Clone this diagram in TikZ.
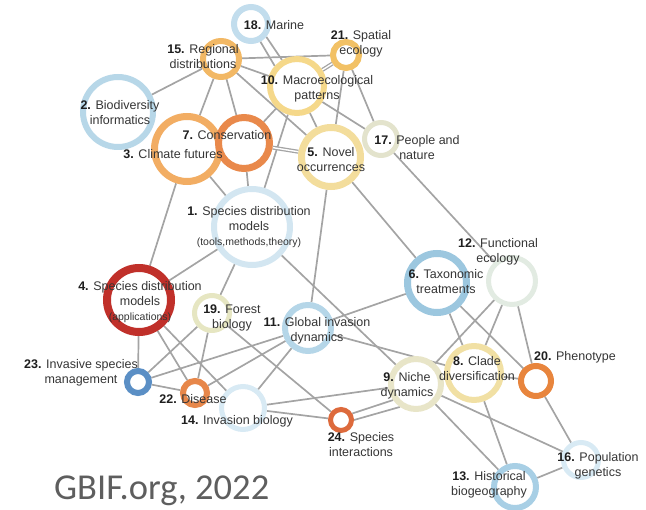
\documentclass[tikz,border=0pt]{standalone}
\usepackage{fontspec}
\usepackage{tikz}
\usepackage{xcolor}
\usetikzlibrary{backgrounds}
\newfontfamily\lblfont{Liberation Sans}
\newfontfamily\capfont{Carlito}
\definecolor{edgegray}{HTML}{A4A4A4}
\definecolor{txtgray}{HTML}{353535}
\definecolor{numcol}{HTML}{1E1E1E}
\definecolor{gbifgray}{HTML}{5E5E5E}
\definecolor{c1}{HTML}{D3E6F1}
\definecolor{c2}{HTML}{B7D7E8}
\definecolor{c3}{HTML}{F2AD63}
\definecolor{c4}{HTML}{C0302A}
\definecolor{c5}{HTML}{F3DD9C}
\definecolor{c6}{HTML}{9CC7DF}
\definecolor{c7}{HTML}{E9894B}
\definecolor{c8}{HTML}{F1E0A4}
\definecolor{c9}{HTML}{E8E5C8}
\definecolor{c10}{HTML}{F5D88A}
\definecolor{c11}{HTML}{B5D6E8}
\definecolor{c12}{HTML}{E2EBE2}
\definecolor{c13}{HTML}{A8CFE5}
\definecolor{c14}{HTML}{D8EAF4}
\definecolor{c15}{HTML}{F2B865}
\definecolor{c16}{HTML}{D8EAF4}
\definecolor{c17}{HTML}{E3E3CC}
\definecolor{c18}{HTML}{C2DDED}
\definecolor{c19}{HTML}{E6E6C2}
\definecolor{c20}{HTML}{E8853D}
\definecolor{c21}{HTML}{F2C165}
\definecolor{c22}{HTML}{E7874A}
\definecolor{c23}{HTML}{5B8FC5}
\definecolor{c24}{HTML}{DD6A3C}
\newcommand\nb[1]{\textbf{\color{numcol}#1.}}

\begin{document}
\begin{tikzpicture}[x=1pt, y=-1pt,
    ring/.style = {circle, draw=#1, fill=white, inner sep=0pt},
    lbl/.style = {align=center, inner sep=0pt, text=txtgray,
      font=\lblfont\fontsize{12.5}{15}\selectfont},
    edge/.style = {draw=edgegray, line width=1.7pt},
    twin/.style = {draw=edgegray, line width=1.3pt, double=white,
      double distance=1.4pt}]
  \useasboundingbox (0,0) rectangle (646,510);
  % circles
  \node[ring=c1, line width=6pt, minimum size=76pt] (n1) at (252,227) {};
  \node[ring=c2, line width=6pt, minimum size=70pt] (n2) at (118,112) {};
  \node[ring=c3, line width=7pt, minimum size=65pt] (n3) at (187,149) {};
  \node[ring=c4, line width=8pt, minimum size=64pt] (n4) at (139,300) {};
  \node[ring=c5, line width=7pt, minimum size=59pt] (n5) at (331,157) {};
  \node[ring=c6, line width=7pt, minimum size=59pt] (n6) at (437,283) {};
  \node[ring=c7, line width=7pt, minimum size=51pt] (n7) at (244,143) {};
  \node[ring=c8, line width=6pt, minimum size=54pt] (n8) at (474,373) {};
  \node[ring=c9, line width=6pt, minimum size=50pt] (n9) at (416,384) {};
  \node[ring=c10, line width=6pt, minimum size=54pt] (n10) at (297,86) {};
  \node[ring=c11, line width=6pt, minimum size=46pt] (n11) at (308,328) {};
  \node[ring=c12, line width=5pt, minimum size=47pt] (n12) at (512,281) {};
  \node[ring=c13, line width=6pt, minimum size=42pt] (n13) at (515,487) {};
  \node[ring=c14, line width=5pt, minimum size=43pt] (n14) at (243,408) {};
  \node[ring=c15, line width=6pt, minimum size=36pt] (n15) at (221,59) {};
  \node[ring=c16, line width=5pt, minimum size=35pt] (n16) at (581,460) {};
  \node[ring=c17, line width=5pt, minimum size=33pt] (n17) at (381,139) {};
  \node[ring=c18, line width=6pt, minimum size=34pt] (n18) at (251,24) {};
  \node[ring=c19, line width=5pt, minimum size=35pt] (n19) at (212,313) {};
  \node[ring=c20, line width=6pt, minimum size=30pt] (n20) at (536,381) {};
  \node[ring=c21, line width=6pt, minimum size=26pt] (n21) at (346,55) {};
  \node[ring=c22, line width=6pt, minimum size=24pt] (n22) at (195,393) {};
  \node[ring=c23, line width=6pt, minimum size=22pt] (n23) at (138,382) {};
  \node[ring=c24, line width=5pt, minimum size=21pt] (n24) at (341,420) {};

  % links
  \begin{scope}[on background layer]
    \foreach \a/\b in {15/21, 15/10, 15/5, 15/3, 15/7, 15/2,
        21/5, 21/17, 10/17, 10/7, 10/1, 10/5, 3/1, 3/4, 7/1,
        5/11, 5/6, 17/12, 1/4, 1/19, 1/9, 4/23, 4/22, 4/14,
        19/23, 19/22, 19/24, 11/23, 11/22, 11/14, 11/8, 11/6,
        23/22, 14/9, 14/24, 6/8, 6/20, 12/9, 12/8, 12/20,
        8/20, 9/13, 9/16, 8/13, 20/16, 13/16}
      \draw[edge] (n\a) -- (n\b);
    \draw[edge] (n18.-40) -- (n10.120);
    \draw[edge] (n18.-62) -- (n10.138);
    \draw[edge] (n24.30) -- (n9.215);
    \draw[edge] (n24.0) -- (n9.235);
    \draw[twin] (n21) -- (n10);
    \draw[twin] (n7) -- (n5);
  \end{scope}

  % labels
  \node[lbl] (l1) at (249,227) {\nb{1} Species distribution\\models\\{\fontsize{10.5}{12}\selectfont (tools,methods,theory)}};
  \node[lbl] (l2) at (120,113) {\nb{2} Biodiversity\\informatics};
  \node[lbl] (l3) at (173,154) {\nb{3} Climate futures};
  \node[lbl] (l4) at (140,302) {\nb{4} Species distribution\\models\\{\fontsize{10.5}{12}\selectfont (applications)}};
  \node[lbl] (l5) at (331,160) {\nb{5} Novel\\occurrences};
  \node[lbl] (l6) at (446,282) {\nb{6} Taxonomic\\treatments};
  \node[lbl] (l7) at (227,135) {\nb{7} Conservation};
  \node[lbl] (l8) at (477,369) {\nb{8} Clade\\diversification};
  \node[lbl] (l9) at (407,386) {\nb{9} Niche\\dynamics};
  \node[lbl] (l10) at (317,89) {\nb{10} Macroecological\\patterns};
  \node[lbl] (l11) at (317,331) {\nb{11} Global invasion\\dynamics};
  \node[lbl] (l12) at (498,252) {\nb{12} Functional\\ecology};
  \node[lbl] (l13) at (489,485) {\nb{13} Historical\\biogeography};
  \node[lbl] (l14) at (237,421) {\nb{14} Invasion biology};
  \node[lbl] (l15) at (203,57) {\nb{15} Regional\\distributions};
  \node[lbl] (l16) at (598,466) {\nb{16} Population\\genetics};
  \node[lbl] (l17) at (417,148) {\nb{17} People and\\nature};
  \node[lbl] (l18) at (274,25) {\nb{18} Marine};
  \node[lbl] (l19) at (232,318) {\nb{19} Forest\\biology};
  \node[lbl] (l20) at (575,357) {\nb{20} Phenotype};
  \node[lbl] (l21) at (361,44) {\nb{21} Spatial\\ecology};
  \node[lbl] (l22) at (193,399) {\nb{22} Disease};
  \node[lbl] (l23) at (81,373) {\nb{23} Invasive species\\management};
  \node[lbl] (l24) at (361,445) {\nb{24} Species\\interactions};

  \node[anchor=base west, inner sep=0pt, text=gbifgray,
    font=\capfont\fontsize{36.5}{42}\selectfont] (src) at (54,500) {GBIF.org, 2022};
\end{tikzpicture}
\end{document}
